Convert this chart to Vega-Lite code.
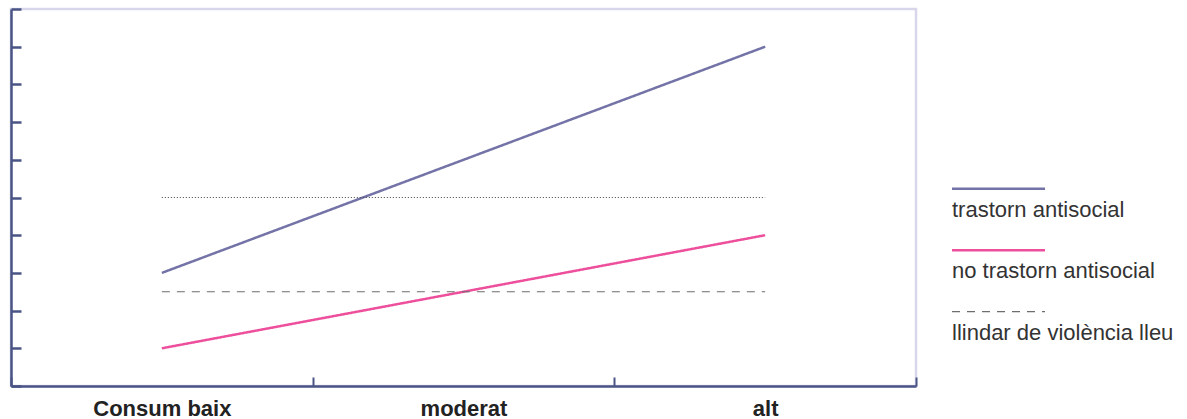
{
  "$schema": "https://vega.github.io/schema/vega-lite/v6.json",
  "width": 905,
  "height": 377,
  "autosize": {"type": "none"},
  "padding": {"left": 11, "top": 9, "right": 271, "bottom": 33},
  "background": "white",
  "config": {
    "view": {"stroke": "#d8d6ea", "strokeWidth": 2.5},
    "font": "Liberation Sans",
    "legend": {
      "orient": "none",
      "legendX": 976.5,
      "legendY": 168.7,
      "title": null,
      "padding": 0,
      "symbolType": "stroke",
      "symbolSize": 8649,
      "symbolStrokeWidth": 2.5,
      "symbolOffset": 0,
      "labelOffset": -57.5,
      "labelFontSize": 22,
      "labelColor": "#333333",
      "labelFont": "Liberation Sans",
      "labelBaseline": "alphabetic",
      "labelLimit": 400,
      "rowPadding": 18.5
    }
  },
  "datasets": {
    "series": [
      {"consum": "Consum baix", "serie": "trastorn antisocial", "valor": 3},
      {"consum": "moderat", "serie": "trastorn antisocial", "valor": 6},
      {"consum": "alt", "serie": "trastorn antisocial", "valor": 9},
      {"consum": "Consum baix", "serie": "no trastorn antisocial", "valor": 1},
      {"consum": "moderat", "serie": "no trastorn antisocial", "valor": 2.5},
      {"consum": "alt", "serie": "no trastorn antisocial", "valor": 4},
      {"consum": "Consum baix", "serie": "llindar de violència lleu", "valor": 2.5},
      {"consum": "moderat", "serie": "llindar de violència lleu", "valor": 2.5},
      {"consum": "alt", "serie": "llindar de violència lleu", "valor": 2.5}
    ],
    "referencia": [
      {"consum": "Consum baix", "valor": 5},
      {"consum": "moderat", "valor": 5},
      {"consum": "alt", "valor": 5}
    ]
  },
  "layer": [
    {
      "data": {"name": "series"},
      "mark": {"type": "line"},
      "encoding": {
        "x": {
          "field": "consum",
          "type": "nominal",
          "scale": {"type": "band", "domain": ["Consum baix", "moderat", "alt"], "paddingInner": 0, "paddingOuter": 0},
          "axis": {
            "title": null,
            "tickBand": "extent",
            "tickSize": -9,
            "tickWidth": 2,
            "tickColor": "#4a5586",
            "domainColor": "#4a5586",
            "domainWidth": 2.5,
            "labelFontSize": 22,
            "labelFontWeight": "bold",
            "labelColor": "#222222",
            "labelPadding": 21,
            "labelAngle": 0,
            "grid": false
          }
        },
        "y": {
          "field": "valor",
          "type": "quantitative",
          "scale": {"domain": [0, 10], "nice": false},
          "axis": {
            "title": null,
            "labels": false,
            "values": [0, 1, 2, 3, 4, 5, 6, 7, 8, 9, 10],
            "tickCount": 20,
            "tickSize": -10,
            "tickWidth": 2.5,
            "tickColor": "#4a5586",
            "domainColor": "#4a5586",
            "domainWidth": 2.5,
            "grid": false
          }
        },
        "color": {
          "field": "serie",
          "type": "nominal",
          "scale": {
            "domain": ["trastorn antisocial", "no trastorn antisocial", "llindar de violència lleu"],
            "range": ["#7473a8", "#ee4f9c", "#6e6e6e"]
          },
          "legend": {
            "encode": {
              "labels": {"update": {"dy": {"value": 28}}},
              "symbols": {"update": {"strokeWidth": {"signal": "datum.value === 'llindar de violència lleu' ? 1.2 : 2.5"}}}
            }
          }
        },
        "strokeDash": {
          "field": "serie",
          "type": "nominal",
          "scale": {
            "domain": ["trastorn antisocial", "no trastorn antisocial", "llindar de violència lleu"],
            "range": [[1, 0], [1, 0], [8, 7]]
          },
          "legend": {
            "encode": {
              "labels": {"update": {"dy": {"value": 28}}},
              "symbols": {"update": {"strokeWidth": {"signal": "datum.value === 'llindar de violència lleu' ? 1.2 : 2.5"}}}
            }
          }
        },
        "strokeWidth": {
          "condition": {"test": "datum.serie === 'llindar de violència lleu'", "value": 1.2},
          "value": 2.5
        }
      }
    },
    {
      "data": {"name": "referencia"},
      "mark": {"type": "line", "color": "#444444", "strokeWidth": 1, "strokeDash": [1, 2]},
      "encoding": {
        "x": {"field": "consum", "type": "nominal"},
        "y": {"field": "valor", "type": "quantitative"}
      }
    }
  ]
}
